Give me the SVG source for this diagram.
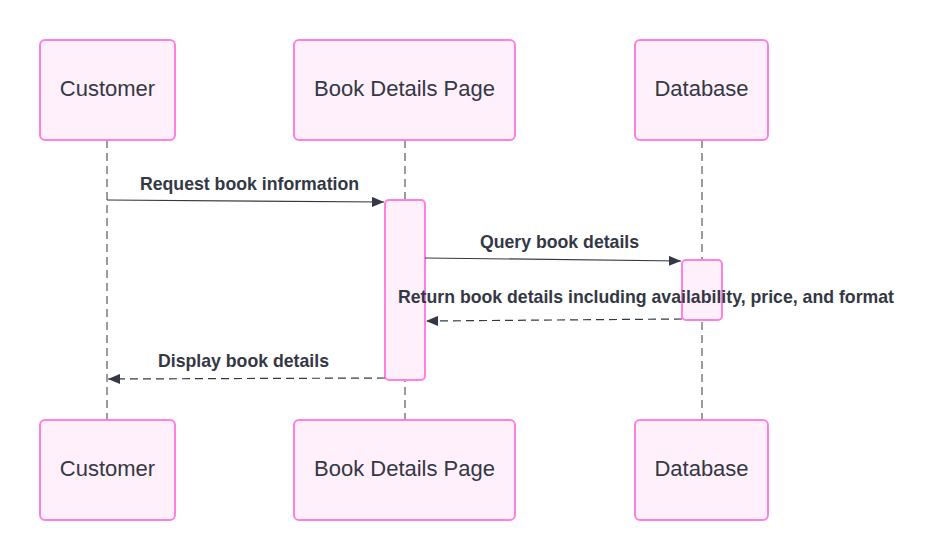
<svg xmlns="http://www.w3.org/2000/svg" width="935" height="560" viewBox="0 0 935 560">
<defs>
<style>
.actor{fill:#fff0fb;stroke:#ff80df;stroke-width:2}
.act{fill:#fff0fb;stroke:#ff80df;stroke-width:2}
.atext{font-family:"Liberation Sans",Arial,sans-serif;font-size:22px;fill:#333844;text-anchor:middle;dominant-baseline:central}
.life{stroke:#333844;stroke-width:1;stroke-dasharray:8 5;fill:none}
.msg{stroke:#333844;stroke-width:1.2;fill:none}
.dash{stroke-dasharray:8 5}
.mtext{font-family:"Liberation Sans",Arial,sans-serif;font-size:17.7px;font-weight:bold;fill:#333844;text-anchor:middle}
</style>
<marker id="arr" viewBox="0 0 12 10" refX="12" refY="5" markerWidth="12" markerHeight="10" markerUnits="userSpaceOnUse" orient="auto">
<path d="M0,0 L12,5 L0,10 z" fill="#333844"/>
</marker>
</defs>
<rect width="935" height="560" fill="#ffffff"/>
<g id="lifelines">
<line class="life" x1="107" y1="140" x2="107" y2="420"/>
<line class="life" x1="405" y1="140" x2="405" y2="420"/>
<line class="life" x1="702" y1="140" x2="702" y2="420"/>
</g>
<g id="customer-top"><rect class="actor" x="40" y="40" width="135" height="100" rx="5"/><text class="atext" x="107.5" y="88">Customer</text></g>
<g id="page-top"><rect class="actor" x="294" y="40" width="221" height="100" rx="5"/><text class="atext" x="404.5" y="88">Book Details Page</text></g>
<g id="db-top"><rect class="actor" x="635" y="40" width="133" height="100" rx="5"/><text class="atext" x="701.5" y="88">Database</text></g>
<g id="customer-bottom"><rect class="actor" x="40" y="420" width="135" height="100" rx="5"/><text class="atext" x="107.5" y="468">Customer</text></g>
<g id="page-bottom"><rect class="actor" x="294" y="420" width="221" height="100" rx="5"/><text class="atext" x="404.5" y="468">Book Details Page</text></g>
<g id="db-bottom"><rect class="actor" x="635" y="420" width="133" height="100" rx="5"/><text class="atext" x="701.5" y="468">Database</text></g>
<g id="page-activation"><rect class="act" x="385" y="200" width="40" height="180" rx="4"/></g>
<g id="db-activation"><rect class="act" x="682" y="260" width="40" height="60" rx="4"/></g>
<g id="connectors">
<line class="msg" x1="107" y1="200" x2="384" y2="202" marker-end="url(#arr)"/>
<line class="msg" x1="425" y1="258" x2="681" y2="261" marker-end="url(#arr)"/>
<line class="msg dash" x1="682" y1="319" x2="426" y2="321" marker-end="url(#arr)"/>
<line class="msg dash" x1="385" y1="378" x2="108" y2="379" marker-end="url(#arr)"/>
</g>
<g id="labels">
<text class="mtext" x="249.5" y="190">Request book information</text>
<text class="mtext" x="559.5" y="248">Query book details</text>
<text class="mtext" x="646" y="303">Return book details including availability, price, and format</text>
<text class="mtext" x="243.5" y="367">Display book details</text>
</g>
</svg>
